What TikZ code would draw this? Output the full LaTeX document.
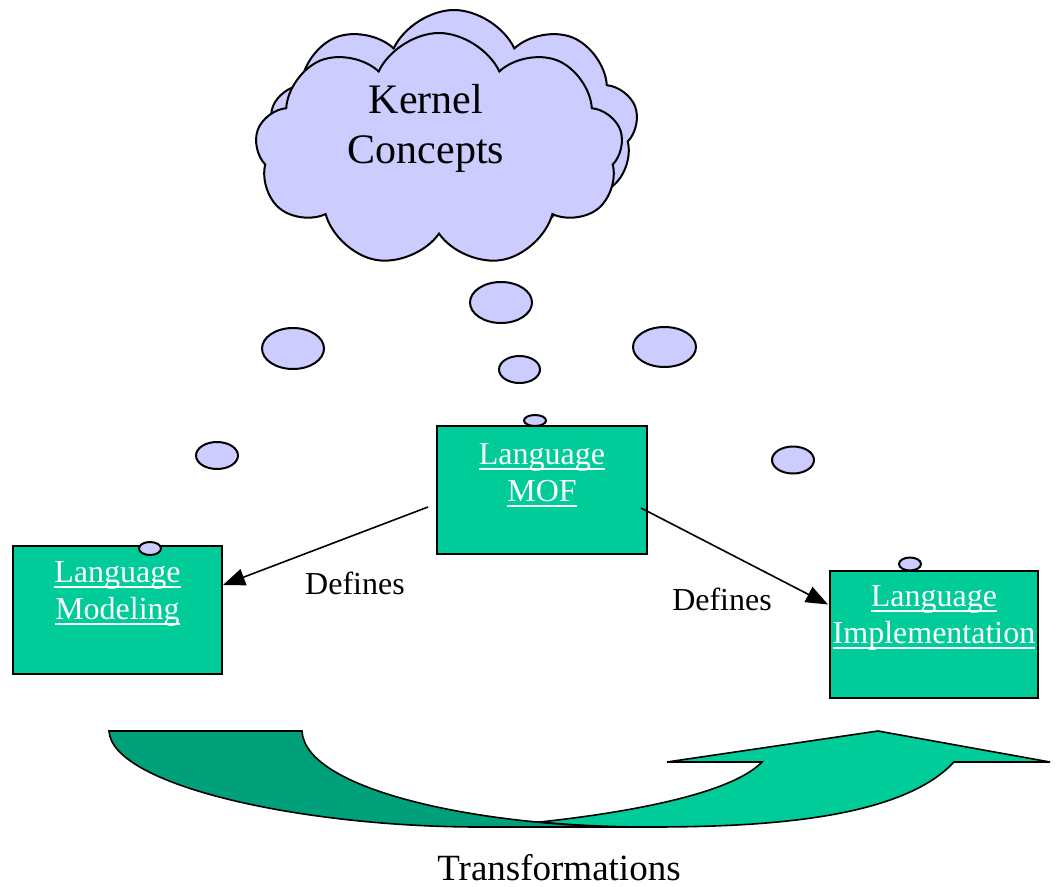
\documentclass[tikz,border=0pt]{standalone}
\usepackage{fontspec}
\setmainfont{Liberation Serif}
\usetikzlibrary{shapes.symbols,shapes.geometric,arrows.meta,calc}
\definecolor{lav}{HTML}{CCCCFF}
\definecolor{grn}{HTML}{00CC99}
\definecolor{dgrn}{HTML}{00A07A}
\newcommand\ulw[1]{\setbox0\hbox{#1}\rlap{\rule[-0.17em]{\wd0}{0.06em}}\box0}
\begin{document}
\begin{tikzpicture}[x=1pt,y=-1pt,
  bubble/.style={ellipse, draw=black, line width=2pt, fill=lav, inner sep=0pt},
  gbox/.style={rectangle, draw=black, line width=2pt, fill=grn, inner sep=0pt},
  boxtext/.style={anchor=north, align=center, inner sep=0pt, text=white, font=\fontsize{32}{37}\selectfont},
  lbl/.style={anchor=base, inner sep=0pt, font=\fontsize{32}{37}\selectfont},
  kcloud/.style={cloud, cloud puffs=9, cloud puff arc=130, aspect=1.6, draw=black, line width=2pt, fill=lav, inner sep=0pt},
  defarrow/.style={line width=1.6pt, -{Triangle[length=22pt,width=17pt]}},
  band/.style={draw=black, line width=1.6pt}]
\useasboundingbox (0,0) rectangle (1057,886);

% cloud
\node[kcloud, minimum width=368pt, minimum height=234pt] (cloudB) at (454,127) {};
\node[kcloud, minimum width=368pt, minimum height=234pt] (cloudF) at (439,150) {};
\node[anchor=north, align=center, inner sep=0pt, font=\fontsize{42}{50}\selectfont] (kt) at (426,84) {Kernel\\Concepts};

% boxes
\node[gbox, minimum width=210pt, minimum height=128pt] (mof) at (542,490) {};
\node[gbox, minimum width=209pt, minimum height=128pt] (modl) at (117.5,610) {};
\node[gbox, minimum width=208pt, minimum height=127pt] (impl) at (934,634.5) {};
\node[boxtext] (mofT) at ($(mof.north)+(0,18)$) {\ulw{Language}\\\ulw{MOF}};
\node[boxtext] (modlT) at ($(modl.north)+(0,16)$) {\ulw{Language}\\\ulw{Modeling}};
\node[boxtext] (implT) at ($(impl.north)+(0,15)$) {\ulw{Language}\\\ulw{Implementation}};

% thought bubbles
\node[bubble, minimum width=62pt, minimum height=41pt] (b1) at (501,302.5) {};
\node[bubble, minimum width=62pt, minimum height=41pt] (b2) at (293,348.5) {};
\node[bubble, minimum width=63pt, minimum height=40pt] (b3) at (664.5,347) {};
\node[bubble, minimum width=41pt, minimum height=27pt] (b4) at (519.5,369.5) {};
\node[bubble, minimum width=42pt, minimum height=27pt] (b5) at (217,455.5) {};
\node[bubble, minimum width=42pt, minimum height=27pt] (b6) at (793,460) {};
\node[bubble, minimum width=22pt, minimum height=11pt] (b7) at (535,420.5) {};
\node[bubble, minimum width=22pt, minimum height=13pt] (b8) at (150,548.5) {};
\node[bubble, minimum width=22pt, minimum height=13pt] (b9) at (910,564) {};

% connectors
\draw[defarrow] ($(mof.west)+(-8,17)$) -- ($(modl.east)+(0,-25)$);
\draw[defarrow] ($(mof.east)+(-7,18)$) -- ($(impl.west)+(-1,-30)$);
\node[lbl] (d1) at (355,594) {Defines};
\node[lbl] (d2) at (722,610) {Defines};

% curved transformation arrow
\path[band, fill=dgrn] (109,731) -- (302,731)
  .. controls (305,790) and (480,827) .. (640,827)
  -- (480,827)
  .. controls (300,827) and (112,785) .. (109,731) -- cycle;
\path[band, fill=grn] (540,822)
  .. controls (650,810) and (735,790) .. (762,762)
  -- (667,762) -- (878,731) -- (1050,762) -- (954,762)
  .. controls (900,820) and (760,827) .. (650,827)
  .. controls (610,827) and (570,825) .. (540,822) -- cycle;
\node[anchor=base, inner sep=0pt, font=\fontsize{37}{44}\selectfont] (tr) at (559,880) {Transformations};
\end{tikzpicture}
\end{document}
